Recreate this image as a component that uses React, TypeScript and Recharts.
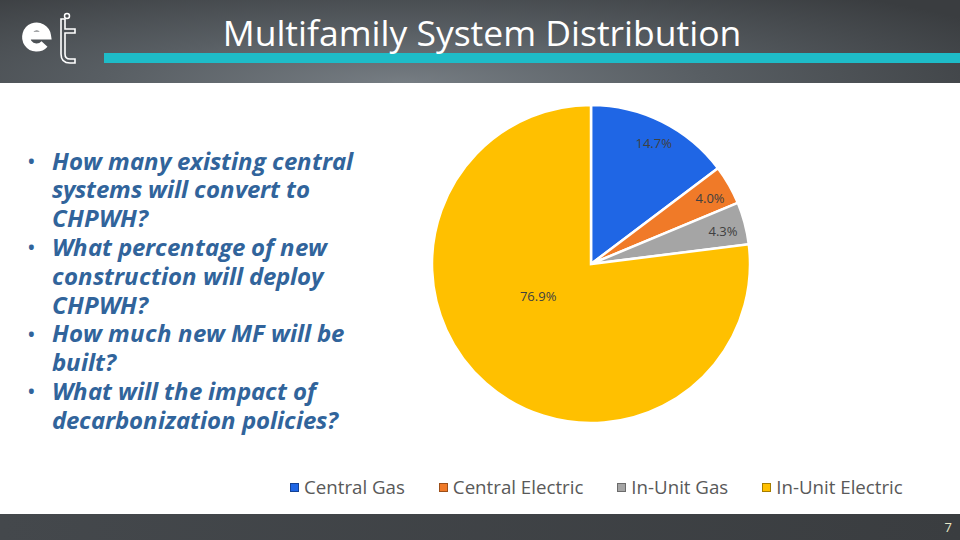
import React from "react";
import { PieChart, Pie, Cell, Legend } from "recharts";

const categories = ["Central Gas", "Central Electric", "In-Unit Gas", "In-Unit Electric"];
const shares = [14.7, 4.0, 4.3, 76.9];
const colors = ["#1F66E5", "#F07A28", "#A5A5A5", "#FFC000"];
const titleText = "Multifamily System Distribution";
const bulletLines = [
  ["How many existing central", "systems will convert to", "CHPWH?"],
  ["What percentage of new", "construction will deploy", "CHPWH?"],
  ["How much new MF will be", "built?"],
  ["What will the impact of", "decarbonization policies?"],
];
const pageNumber = "7";

const data = categories.map((name, i) => ({ name, value: shares[i] }));
const RAD = Math.PI / 180;
const FONT = "'Open Sans', 'Noto Sans', sans-serif";
const LINE = 28.8;

const fontFace = `
@font-face {
  font-family: 'OSTight';
  src: local('Open Sans Bold Italic'), local('OpenSans-BoldItalic'), local('Open Sans Italic'), local('OpenSans-Italic');
  font-weight: 700;
  font-style: italic;
  ascent-override: 98%;
  descent-override: 20%;
  line-gap-override: 0%;
}
`;

const renderLabel = (p: any) => {
  const { cx, cy, midAngle, outerRadius, index, value } = p;
  const big = index === 3;
  const r = big ? outerRadius * 0.39 : outerRadius * 0.855;
  const a = big ? midAngle - 17 : midAngle - 1;
  const x = cx + r * Math.cos(-a * RAD);
  const y = cy + r * Math.sin(-a * RAD);
  return (
    <text x={x} y={y} fill="#404040" fontSize={13} fontFamily={FONT} textAnchor="middle" dominantBaseline="central">
      {value.toFixed(1) + "%"}
    </text>
  );
};

const LegendContent = () => (
  <div style={{ display: "flex", fontFamily: FONT, fontSize: 18.7, color: "#595959", paddingLeft: 290, lineHeight: "26px" }}>
    {categories.map((c, i) => (
      <div key={c} style={{ display: "flex", alignItems: "center", marginRight: i < 3 ? 34 : 0 }}>
        <span style={{ display: "inline-block", width: 9, height: 9, background: colors[i], border: "1px solid rgba(0,0,0,0.35)", marginRight: 5, boxSizing: "border-box" }} />
        <span>{c}</span>
      </div>
    ))}
  </div>
);

export default function App() {
  const allLines: string[] = [];
  const bulletRows: number[] = [];
  bulletLines.forEach((item) => {
    bulletRows.push(allLines.length);
    item.forEach((l) => allLines.push(l));
  });
  return (
    <div style={{ position: "absolute", left: 0, top: 0, width: 960, height: 540, overflow: "hidden", background: "#ffffff" }}>
      <style>{fontFace}</style>
      {/* header */}
      <div style={{ position: "absolute", left: 0, top: 0, width: 960, height: 83, background: "radial-gradient(ellipse 70% 140% at 42% 100%, #767d83 0%, #585e63 45%, #3a3d40 100%)" }} />
      <div style={{ position: "absolute", left: 104, top: 53, width: 856, height: 10, background: "#1EBCC8" }} />
      <div style={{ position: "absolute", left: 0, top: 9, width: 964, textAlign: "center", color: "#ffffff", fontFamily: FONT, fontSize: 35.5, lineHeight: "46px" }}>
        {titleText}
      </div>
      <svg style={{ position: "absolute", left: 0, top: 0 }} width={100} height={80}>
        <path d="M26 35.5 L47 35.5 A10.5 10.5 0 1 0 44.5 44" stroke="#ffffff" strokeWidth={8} fill="none" strokeLinecap="butt" />
        <path d="M61 19 L61 54 Q61 63 70 63 L75 63 L75 59 L70 59 Q65 59 65 54 L65 33 L75 33 L75 29 L65 29 L65 19 Z" stroke="#ffffff" strokeWidth={1.6} fill="none" />
        <circle cx={67} cy={16} r={2.5} stroke="#ffffff" strokeWidth={1.5} fill="none" />
      </svg>
      {/* footer */}
      <div style={{ position: "absolute", left: 0, top: 514, width: 960, height: 26, background: "linear-gradient(90deg, #44484c 0%, #3a3d40 100%)" }} />
      <div style={{ position: "absolute", right: 8, top: 518, color: "#e8e8c8", fontFamily: FONT, fontSize: 13 }}>{pageNumber}</div>
      {/* bullets */}
      {bulletRows.map((row) => (
        <div key={"b" + row} style={{ position: "absolute", left: 27, top: 147 + row * LINE, fontFamily: FONT, fontSize: 23, lineHeight: "28px", color: "#31649B" }}>•</div>
      ))}
      <div style={{ position: "absolute", left: 52, top: 146.6, fontFamily: "'OSTight', " + FONT, fontSize: 23.8, fontWeight: 700, fontStyle: "italic", lineHeight: LINE + "px", color: "#31649B", whiteSpace: "nowrap" }}>
        {allLines.map((l, i) => (
          <React.Fragment key={i}>
            {l}
            {i < allLines.length - 1 && <br />}
          </React.Fragment>
        ))}
      </div>
      {/* chart */}
      <div style={{ position: "absolute", left: 0, top: 0 }}>
        <PieChart width={960} height={540} margin={{ top: 0, right: 0, bottom: 0, left: 0 }}>
          <Pie
            data={data}
            dataKey="value"
            nameKey="name"
            cx={591}
            cy={264}
            outerRadius={159}
            startAngle={90}
            endAngle={-270}
            stroke="#ffffff"
            strokeWidth={2.5}
            label={renderLabel}
            labelLine={false}
            isAnimationActive={false}
          >
            {data.map((d, i) => (
              <Cell key={d.name} fill={colors[i]} />
            ))}
          </Pie>
          <Legend content={<LegendContent />} wrapperStyle={{ position: "absolute", left: 0, top: 474, width: 960 }} />
        </PieChart>
      </div>
    </div>
  );
}
